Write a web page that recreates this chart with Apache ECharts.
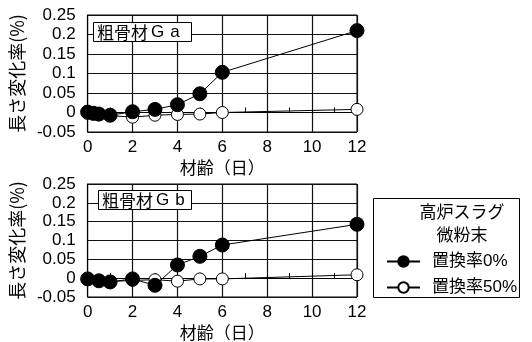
<!DOCTYPE html>
<html>
<head>
<meta charset="utf-8">
<script src="https://cdn.jsdelivr.net/npm/echarts@6/dist/echarts.min.js"></script>
<style>
  html, body { margin: 0; padding: 0; background: #fff; }
  #chart { width: 532px; height: 342px; }
</style>
</head>
<body>
<div id="chart"></div>
<script>
// Length change (%) vs. age (days) for coarse aggregates Ga and Gb
const daysGa = [0, 0.25, 0.5, 1, 2, 3, 4, 5, 6, 12];
const gaRep0 = [0.001, -0.002, -0.004, -0.007, 0.002, 0.008, 0.02, 0.048, 0.103, 0.21];
const gaRep50 = [-0.002, -0.004, -0.006, -0.008, -0.012, -0.007, -0.005, -0.004, 0, 0.008];

const daysGb = [0, 0.5, 1, 2, 3, 4, 5, 6, 12];
const gbRep0 = [-0.002, -0.007, -0.010, -0.002, -0.019, 0.035, 0.058, 0.088, 0.143];
const gbRep50 = [-0.004, -0.008, -0.009, -0.006, -0.004, -0.008, -0.002, -0.002, 0.009];

const yTicks = ['-0.05', '0', '0.05', '0.1', '0.15', '0.2', '0.25'];
const seriesNames = ['置換率0%', '置換率50%'];
const panelTitles = [['粗骨材', 'G', 'a'], ['粗骨材', 'G', 'b']];
const legendTitle = ['高炉スラグ', '微粉末'];
const yName = '長さ変化率(%)';
const xName = '材齢（日）';

const LATIN = "'Liberation Sans', 'Noto Sans CJK JP', sans-serif";
const JP = "'Noto Sans CJK JP', 'Liberation Sans', sans-serif";

const pairs = (xs, ys) => xs.map((x, i) => [x, ys[i]]);

function xAxisFor(gridIndex) {
  return {
    type: 'value', gridIndex, min: 0, max: 12, interval: 2,
    name: xName, nameLocation: 'middle', nameGap: 27,
    nameTextStyle: { fontFamily: JP, fontSize: 17, color: '#000' },
    axisLine: { show: true, lineStyle: { color: '#000', width: 1 } },
    axisTick: { show: true, inside: true, length: 5, lineStyle: { color: '#000' } },
    minorTick: { show: true, splitNumber: 2, length: 5, lineStyle: { color: '#000' } },
    axisLabel: { fontFamily: LATIN, fontSize: 17, color: '#000', margin: 7 },
    splitLine: { show: true, lineStyle: { color: '#111', width: 1.2 } }
  };
}

function yAxisFor(gridIndex) {
  return {
    type: 'value', gridIndex, min: -0.05, max: 0.25, interval: 0.05,
    name: yName, nameLocation: 'middle', nameGap: 59, nameRotate: 90,
    nameTextStyle: { fontFamily: JP, fontSize: 18, color: '#000' },
    axisLine: { show: true, lineStyle: { color: '#000', width: 1 } },
    axisTick: { show: false },
    axisLabel: {
      fontFamily: LATIN, fontSize: 17, color: '#000', margin: 12,
      formatter: v => yTicks[Math.round((v + 0.05) / 0.05)]
    },
    splitLine: { show: true, lineStyle: { color: '#111', width: 1.2 } }
  };
}

function openSeries(idx, data) {
  return {
    type: 'line', name: seriesNames[1], xAxisIndex: idx, yAxisIndex: idx,
    data, symbol: 'circle', symbolSize: 12,
    itemStyle: { color: '#fff', borderColor: '#000', borderWidth: 1 },
    lineStyle: { color: '#000', width: 1 }, z: 3, animation: false
  };
}
function filledSeries(idx, data) {
  return {
    type: 'line', name: seriesNames[0], xAxisIndex: idx, yAxisIndex: idx,
    data, symbol: 'circle', symbolSize: 14,
    itemStyle: { color: '#000', borderColor: '#000', borderWidth: 1 },
    lineStyle: { color: '#000', width: 1 }, z: 4, animation: false
  };
}

// Boxed panel label; the Latin letters are set a little apart
function panelTitle(parts, left, top, rightPad) {
  return {
    text: '{k|' + parts[0] + '}{g|' + parts[1] + '}{l|' + parts[2] + '}',
    left, top,
    backgroundColor: '#fff', borderColor: '#000', borderWidth: 1,
    padding: [2, rightPad, 1, 4],
    textStyle: {
      fontFamily: JP, fontSize: 17, fontWeight: 'normal', color: '#000',
      rich: {
        k: { fontFamily: JP, fontSize: 17, color: '#000', padding: [0, 3, 0, 0] },
        g: { fontFamily: LATIN, fontSize: 17, color: '#000', padding: [0, 6, 0, 0] },
        l: { fontFamily: LATIN, fontSize: 17, color: '#000' }
      }
    }
  };
}

const chart = echarts.init(document.getElementById('chart'), null, { renderer: 'canvas' });
chart.setOption({
  backgroundColor: '#fff',
  animation: false,
  grid: [
    { left: 86, top: 15, width: 271, height: 117, show: true, borderColor: '#000', borderWidth: 1 },
    { left: 86, top: 184, width: 271, height: 114, show: true, borderColor: '#000', borderWidth: 1 }
  ],
  xAxis: [xAxisFor(0), xAxisFor(1)],
  yAxis: [yAxisFor(0), yAxisFor(1)],
  title: [panelTitle(panelTitles[0], 93, 22, 12), panelTitle(panelTitles[1], 98, 190, 7)],
  legend: {
    orient: 'vertical', left: 381, top: 248,
    itemWidth: 33, itemHeight: 13, itemGap: 9,
    data: seriesNames,
    textStyle: { fontFamily: LATIN, fontSize: 17, color: '#000', padding: [0, 0, 0, 7] }
  },
  graphic: [
    { type: 'rect', left: 373, top: 198, shape: { width: 146, height: 99 },
      style: { fill: '#fff', stroke: '#000', lineWidth: 1 }, z: -1 },
    { type: 'text', x: 462, y: 212,
      style: { text: legendTitle[0], font: "17px 'Noto Sans CJK JP'", fill: '#000', textAlign: 'center', textVerticalAlign: 'middle' } },
    { type: 'text', x: 462, y: 235,
      style: { text: legendTitle[1], font: "17px 'Noto Sans CJK JP'", fill: '#000', textAlign: 'center', textVerticalAlign: 'middle' } }
  ],
  series: [
    openSeries(0, pairs(daysGa, gaRep50)),
    filledSeries(0, pairs(daysGa, gaRep0)),
    openSeries(1, pairs(daysGb, gbRep50)),
    filledSeries(1, pairs(daysGb, gbRep0))
  ]
});
</script>
</body>
</html>
